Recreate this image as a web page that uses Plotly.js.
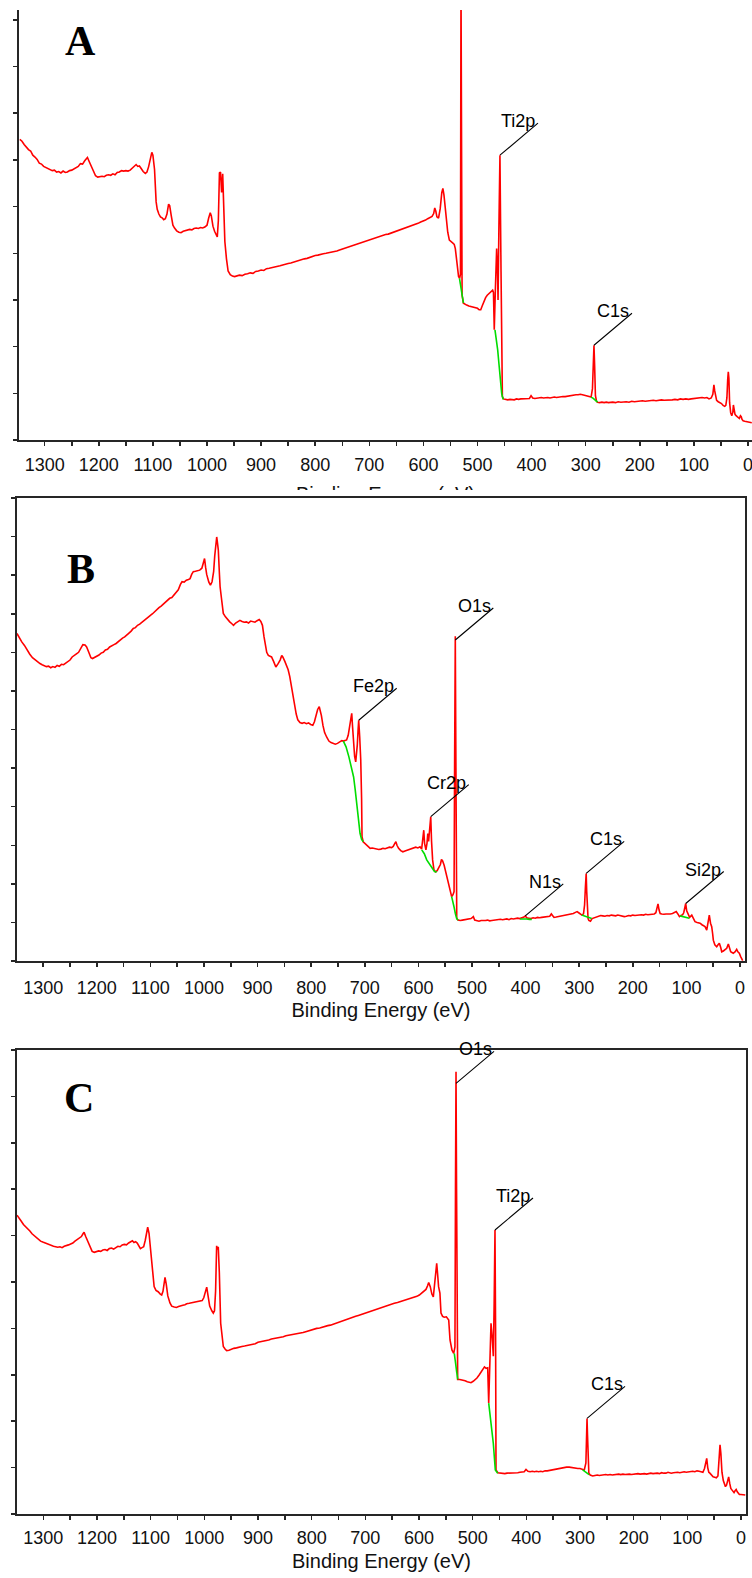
<!DOCTYPE html>
<html>
<head>
<meta charset="utf-8">
<script src="https://cdn.plot.ly/plotly-3.0.1.min.js"></script>
<style>
  html, body { margin: 0; padding: 0; background: #ffffff; }
  body { width: 752px; height: 1578px; position: relative; overflow: hidden; }
  .panel { position: absolute; left: 0; width: 752px; overflow: hidden; }
</style>
</head>
<body>
<!-- panel A's figure is taller than its frame, so the frame trims the bottom of its axis title -->
<div class="panel" style="top:0px;height:490px"><div id="panelA"></div></div>
<div class="panel" style="top:490px;height:542px"><div id="panelB"></div></div>
<div class="panel" style="top:1032px;height:546px"><div id="panelC"></div></div>
<script>
// ---------- binding-energy axis ticks ----------
const energyTicks = [0,50,100,150,200,250,300,350,400,450,500,550,600,650,700,750,800,850,900,950,1000,1050,1100,1150,1200,1250,1300,1350];
const energyTickLabels = ['0','','100','','200','','300','','400','','500','','600','','700','','800','','900','','1000','','1100','','1200','','1300',''];

// ---------- survey A (TiO2 coating) ----------
const aEnergy = [
  1346,1342,1338,1334,1330,1326,1322,1318,1314,1310,
  1306,1302,1298,1294,1290,1286,1282,1278,1274,1270,
  1266,1262,1258,1254,1250,1246,1242,1238,1234,1230,
  1226,1223,1221,1218,1214,1210,1206,1202,1198,1194,
  1190,1186,1182,1178,1174,1170,1166,1162,1158,1154,
  1150,1146,1142,1138,1134,1131,1128,1125,1122,1118,
  1114,1111,1108,1105,1102,1100,1097,1094,1092,1089,
  1086,1083,1080,1077,1074,1071,1069,1066,1063,1060,
  1056,1052,1048,1044,1040,1036,1032,1028,1024,1020,
  1016,1012,1008,1004,1000,997,994,992,989,986,
  983,981,979,977,975,973,971,969,967,964,
  961,957,953,949,945,940,935,930,925,920,
  915,910,905,900,895,890,885,880,875,870,
  865,860,855,850,845,840,835,830,825,820,
  815,810,805,800,795,790,785,780,775,770,
  765,760,755,750,745,740,735,730,725,720,
  715,710,705,700,695,690,685,680,675,670,
  665,660,655,650,645,640,635,630,625,620,
  615,610,605,600,596,592,588,584,581,579,
  577,575,572,569,566,564,562,560,558,555,
  552,549,546,543,541,539,537,535,533,531.5,
  530.5,528.5,526,523,520,516,512,508,504,500,
  497,494,491,488,485,482,479,476,474,472,
  470.5,469,467,464.6,463,462,460.5,458.5,456.5,455,
  454,452,448,444,440,436,432,428,424,420,
  416,412,408,404,401,398,394,390,386,382,
  378,374,370,366,362,358,354,350,346,342,
  338,334,330,326,322,318,314,310,306,302,
  298,294,290,287.5,286,284.7,283.5,282,280,278,
  274,270,266,262,258,254,250,245,240,235,
  230,225,220,215,210,205,200,195,190,185,
  180,175,170,165,160,155,150,145,140,135,
  130,125,120,115,110,105,100,95,90,85,
  80,76,72,68,65,63,61.5,60,58,55,
  52,49,46,43,41,39,37.5,36.4,35.3,34,
  32,30,28,27,25.5,24,22,20,18,16,
  14,12.5,11,9,6,3,0,-4,-7
];
const aCounts = [
  6.44,6.40,6.33,6.27,6.22,6.19,6.10,6.06,6.01,5.93,
  5.91,5.86,5.84,5.81,5.80,5.77,5.78,5.74,5.75,5.72,
  5.76,5.73,5.74,5.77,5.78,5.81,5.84,5.86,5.92,5.91,
  5.98,6.02,6.05,5.97,5.86,5.74,5.66,5.63,5.64,5.65,
  5.64,5.67,5.68,5.67,5.70,5.68,5.73,5.74,5.77,5.76,
  5.77,5.76,5.78,5.82,5.88,5.90,5.86,5.87,5.82,5.75,
  5.71,5.74,5.85,6.02,6.16,6.10,5.80,5.10,4.94,4.84,
  4.78,4.76,4.72,4.74,4.84,5.05,5.02,4.80,4.60,4.54,
  4.48,4.45,4.44,4.47,4.48,4.49,4.51,4.50,4.53,4.54,
  4.53,4.55,4.54,4.56,4.60,4.75,4.87,4.80,4.58,4.47,
  4.38,4.35,4.70,5.72,5.74,5.30,5.70,5.10,4.25,3.88,
  3.62,3.54,3.51,3.50,3.51,3.53,3.52,3.55,3.56,3.58,
  3.57,3.61,3.62,3.64,3.63,3.67,3.68,3.69,3.71,3.72,
  3.73,3.75,3.77,3.78,3.79,3.81,3.83,3.84,3.86,3.88,
  3.89,3.91,3.94,3.95,3.96,3.98,3.99,4.00,4.01,4.02,
  4.04,4.05,4.07,4.09,4.10,4.12,4.14,4.16,4.18,4.20,
  4.22,4.24,4.27,4.28,4.30,4.32,4.34,4.36,4.38,4.40,
  4.41,4.43,4.45,4.47,4.49,4.51,4.53,4.55,4.58,4.60,
  4.62,4.64,4.67,4.69,4.71,4.74,4.76,4.79,4.85,4.97,
  4.90,4.78,4.75,4.95,5.30,5.39,5.25,5.00,4.70,4.45,
  4.28,4.24,4.22,4.19,4.10,3.90,3.65,3.50,3.46,3.55,
  9.80,3.10,2.93,2.90,2.89,2.87,2.86,2.85,2.84,2.82,
  2.79,2.79,2.88,2.98,3.05,3.10,3.13,3.15,3.17,3.21,
  3.16,2.36,3.20,4.10,3.60,3.00,4.50,6.10,3.60,1.60,
  0.93,0.88,0.87,0.86,0.87,0.87,0.86,0.88,0.87,0.88,
  0.88,0.89,0.88,0.89,0.95,0.90,0.89,0.90,0.90,0.91,
  0.90,0.91,0.91,0.90,0.91,0.92,0.91,0.92,0.92,0.93,
  0.93,0.94,0.95,0.95,0.96,0.97,0.97,0.98,0.97,0.96,
  0.95,0.94,0.92,1.10,1.55,2.03,1.60,0.95,0.83,0.81,
  0.80,0.81,0.80,0.81,0.80,0.81,0.81,0.80,0.82,0.81,
  0.82,0.82,0.81,0.83,0.82,0.83,0.83,0.84,0.83,0.84,
  0.84,0.85,0.84,0.85,0.86,0.85,0.85,0.86,0.86,0.87,
  0.86,0.88,0.87,0.88,0.87,0.88,0.89,0.89,0.90,0.91,
  0.90,0.91,0.88,0.90,0.98,1.18,1.05,0.92,0.85,0.82,
  0.80,0.78,0.74,0.72,0.74,0.90,1.30,1.46,1.32,0.80,
  0.58,0.52,0.60,0.75,0.65,0.55,0.52,0.50,0.48,0.46,
  0.52,0.50,0.44,0.41,0.40,0.39,0.38,0.37,0.37
];
// Shirley-type backgrounds under O1s, Ti2p and C1s (gaps separate the regions)
const aBgEnergy = [533.3,531,529,527.5,526, null, 467.7,465,462.7,460.5,458.4,456.8,455.3,453.8,452.3, null, 290,288,286,284,282,280,278];
const aBgCounts = [3.46,3.30,3.12,3.00,2.93, null, 2.36,2.16,1.93,1.65,1.36,1.16,1.00,0.92,0.87, null, 0.92,0.91,0.89,0.87,0.85,0.83,0.81];
const aPeakNames = ['Ti2p', 'C1s'];
const aPeakEnergy = [458.5, 284.7];
const aPeakCounts = [6.10, 2.03];

// ---------- survey B (stainless steel substrate) ----------
const bEnergy = [
  1349,1345,1340,1335,1330,1325,1320,1315,1310,1306,
  1302,1298,1294,1290,1286,1282,1278,1274,1270,1266,
  1262,1258,1254,1250,1246,1242,1238,1234,1230,1226,
  1222,1219,1215,1211,1208,1204,1200,1196,1192,1188,
  1184,1180,1176,1172,1168,1164,1160,1156,1152,1148,
  1144,1140,1136,1132,1128,1124,1120,1116,1112,1108,
  1104,1100,1096,1092,1088,1084,1080,1076,1072,1068,
  1064,1060,1056,1052,1048,1044,1041,1037,1033,1029,
  1026,1023,1020,1016,1012,1008,1004,1001,999,997,
  995,991,988,985,982,980,978,976.3,975,973.3,
  971.5,970,967,964,960,956,952,948,945,941,
  937,933,929,925,921,917,913,909,905,901,
  897,894,891,888,886,883,880,877,874,870,
  866,862,858,855,853,849,846,843,840,837,
  834,831,828,825,821,817,813,809,805,801,
  797,794,791,788,785,783,781,778,775,771,
  767,763,759,755,751,747,743,740,737,734,
  731,729,726.5,724.4,723,721.5,719,717,715.5,714,
  712.5,711.4,709.5,707.6,706,705.2,703,700,697,694,
  690,686,682,678,674,670,666,662,658,654,
  650,647,644,642,640,637,633,629,625,621,
  617,613,609,605,601,597,594,592,590,588.5,
  586,584,582.5,581,579,577,575.5,573.5,571,568,
  565,562,559,557,555,552,549,547,544,542,
  540,538,535.5,533.5,532.5,531.2,530,528.5,526,522,
  518,514,510,506,502,499,497.5,495,491,487,
  483,479,475,471,467,463,459,455,451,447,
  443,439,435,431,427,423,419,415,411,407,
  403,400.6,398,394,390,386,382,378,374,370,
  366,362,358,355,352,350,347,343,339,335,
  331,327,323,319,315,311,307,304,301,298,
  295,292,290,288.5,287,286,284.9,283.5,282,279,
  276,272,268,264,260,256,252,248,244,240,
  236,232,228,224,220,216,212,208,204,200,
  196,192,188,184,180,176,172,168,164,160,
  157,155,153,151,149,146,142,138,134,130,
  126,122,119,116,113,110,107,105,103,101.3,
  99.5,98,96,94,90,87,84,80,77,74.6,
  71,68,65.3,62.1,60,57.3,55,52.8,51,49.8,
  47,43.5,41,38.6,36,34.1,31,28,24.8,21.8,
  19.5,17.4,15,12.5,9,6.2,4,1.3,-1,-3.2,
  -5
];
const bCounts = [
  8.49,8.38,8.27,8.18,8.05,7.95,7.86,7.80,7.74,7.71,
  7.68,7.66,7.63,7.64,7.60,7.63,7.61,7.66,7.64,7.69,
  7.68,7.72,7.76,7.80,7.88,7.93,7.96,8.00,8.10,8.20,
  8.19,8.14,8.00,7.86,7.84,7.87,7.88,7.93,7.98,8.00,
  8.06,8.08,8.14,8.16,8.20,8.23,8.28,8.32,8.37,8.40,
  8.46,8.50,8.55,8.62,8.64,8.70,8.73,8.78,8.82,8.88,
  8.91,8.96,9.00,9.06,9.10,9.16,9.20,9.25,9.28,9.34,
  9.40,9.42,9.48,9.56,9.62,9.76,9.83,9.82,9.87,9.89,
  9.91,10.02,10.09,10.10,10.12,10.13,10.18,10.30,10.43,10.20,
  10.02,9.82,9.74,9.83,10.10,10.50,10.90,10.99,10.85,10.65,
  10.10,9.70,9.35,9.01,8.92,8.84,8.79,8.74,8.70,8.76,
  8.80,8.83,8.80,8.78,8.79,8.76,8.81,8.79,8.78,8.82,
  8.85,8.80,8.70,8.40,8.23,8.00,7.92,7.90,7.88,7.76,
  7.62,7.70,7.80,7.92,7.88,7.76,7.67,7.55,7.37,7.10,
  6.88,6.60,6.40,6.25,6.18,6.16,6.18,6.15,6.17,6.13,
  6.11,6.20,6.38,6.52,6.59,6.50,6.36,6.10,5.92,5.80,
  5.70,5.66,5.63,5.62,5.64,5.68,5.71,5.70,5.72,5.73,
  5.85,6.03,6.30,6.42,6.10,5.70,5.30,5.16,5.35,5.60,
  6.00,6.24,5.80,5.21,4.20,3.22,3.09,3.05,2.99,2.96,
  2.92,2.93,2.91,2.90,2.89,2.90,2.92,2.91,2.93,2.95,
  2.94,2.97,3.05,3.09,3.00,2.92,2.86,2.83,2.85,2.87,
  2.89,2.90,2.92,2.95,2.93,2.96,2.90,3.10,3.39,3.05,
  2.88,3.05,3.30,3.10,3.50,3.74,3.10,2.62,2.36,2.31,
  2.34,2.42,2.50,2.63,2.60,2.48,2.32,2.18,2.00,1.88,
  1.78,1.67,1.72,1.80,5.00,8.42,5.00,1.10,1.06,1.05,
  1.06,1.07,1.09,1.10,1.10,1.13,1.15,1.06,1.04,1.03,
  1.05,1.04,1.05,1.06,1.04,1.05,1.06,1.07,1.08,1.08,
  1.07,1.08,1.09,1.07,1.10,1.09,1.10,1.11,1.10,1.11,
  1.14,1.17,1.12,1.11,1.10,1.12,1.11,1.13,1.12,1.13,
  1.14,1.13,1.14,1.16,1.22,1.18,1.13,1.14,1.15,1.16,
  1.17,1.18,1.19,1.20,1.21,1.23,1.26,1.28,1.25,1.22,
  1.19,1.22,1.45,1.90,2.27,1.80,1.40,1.10,1.05,1.03,
  1.10,1.12,1.14,1.16,1.18,1.17,1.16,1.18,1.17,1.19,
  1.18,1.17,1.19,1.18,1.17,1.15,1.16,1.18,1.17,1.19,
  1.18,1.19,1.19,1.20,1.19,1.21,1.20,1.21,1.22,1.22,
  1.25,1.35,1.48,1.32,1.23,1.22,1.21,1.22,1.21,1.22,
  1.23,1.25,1.28,1.22,1.15,1.18,1.20,1.25,1.35,1.49,
  1.30,1.24,1.18,1.13,1.19,1.08,1.02,1.00,0.99,0.98,
  0.94,0.92,0.89,0.80,0.95,1.19,0.98,0.89,0.70,0.54,
  0.42,0.37,0.42,0.46,0.35,0.24,0.26,0.30,0.33,0.44,
  0.30,0.24,0.22,0.20,0.24,0.30,0.24,0.20,0.12,0.04,
  0.01
];
const bBgEnergy = [740,735,729.7,725,720.9,718,715.1,712,708.9,706,702.8, null, 593.8,589,584.5,580,575.2,570,565.9, null, 538,535.5,533.5,531,528.5,526, null, 410.4,404,398,393,388.6, null, 295.3,290,285,280,276.7, null, 111.9,106,101,97,94.6];
const bBgCounts = [5.70,5.55,5.29,5.05,4.77,4.45,4.09,3.70,3.31,3.15,3.09, null, 2.88,2.78,2.62,2.52,2.40,2.32,2.31, null, 1.67,1.55,1.40,1.22,1.10,1.06, null, 1.09,1.10,1.09,1.08,1.08, null, 1.19,1.16,1.13,1.11,1.10, null, 1.17,1.15,1.14,1.12,1.11];
const bPeakNames = ['Fe2p', 'Cr2p', 'O1s', 'N1s', 'C1s', 'Si2p'];
const bPeakEnergy = [711.4, 577, 531.2, 400.6, 287, 101.3];
const bPeakCounts = [6.24, 3.74, 8.32, 1.17, 2.27, 1.49];

// ---------- survey C (TiO2 coating, second sample) ----------
const cEnergy = [
  1349,1345,1341,1337,1333,1329,1325,1321,1317,1313,
  1309,1305,1301,1297,1293,1289,1285,1281,1277,1273,
  1269,1265,1261,1257,1253,1249,1245,1241,1237,1233,
  1229,1226,1224,1221,1217,1213,1209,1205,1201,1197,
  1193,1189,1185,1181,1177,1173,1169,1165,1161,1157,
  1153,1149,1145,1141,1137,1134,1131,1128,1125,1122,
  1119,1116,1113,1110,1107,1105.5,1103,1100,1098,1095,
  1093.5,1090,1086,1082,1079.4,1077,1075,1073.2,1071,1068,
  1064,1060.7,1056,1052,1048,1044,1040,1036,1032.8,1028,
  1024,1020,1016,1012,1008,1004,1001,998,995.5,993,
  990,986,983.2,981,979,977,975.5,974,972,969.5,
  967,964.6,961,958.3,954,950,945,940,935,930,
  925,920,914.8,910,905,900,895,890,885,880,
  875,870,865,860,852.8,848,843,838,833,828,
  821.7,816,811,806,801,796,790.6,785,780,775,
  770,765,759.6,754,749,744,739,734,728.5,723,
  718,713,708,703,697.4,692,687,682,676,670,
  664,658,652,646,640,634,628,622,616,610,
  604,599.4,595,591,587,584,581.9,579,576,573.3,
  571,569,567,565.5,563.5,561,559,556,553,549,
  546.5,544.6,542.2,540,538.5,535.3,533,532,531,530,
  528.5,527.9,524,520,518.6,514,510,506,503.1,499,
  496,492,487.6,484,481.3,478,475,472,470.1,468,
  465.8,463.5,461.5,460,458.4,457.3,456.5,453,449,444,
  440,436,432,428,424,420,416,412,408,404,
  400.6,397,393,389,385,381,377,373,369.5,365,
  361,357,353,349,345,341,337,333,329,325,
  320,316,312,308,304,300,296,292,289,287.8,
  286.9,286,284.8,283.5,281,276.3,272,268,264,260,
  256,252,248,244,240,236,232,228,224,220,
  216,212,208,204,200,196,192,188,184,180,
  176,172,168,164,160,156,152,148,144,140,
  136,133.6,130,126,122,118,114,110,106,102,
  98,94,90,86,82,78,74.5,71,68,66,
  63.9,62,60,58,55,52,49,46,43,41,
  39.1,37.5,35.5,33,31,29,27,25,23,21,
  19,17,15,13,11,9,7,5,3,0,
  -4,-8
];
const cCounts = [
  6.44,6.36,6.31,6.24,6.20,6.14,6.10,6.04,6.00,5.94,
  5.92,5.88,5.86,5.84,5.83,5.80,5.79,5.77,5.76,5.75,
  5.76,5.74,5.77,5.78,5.80,5.82,5.84,5.88,5.92,5.95,
  5.98,6.04,6.07,5.98,5.88,5.76,5.66,5.64,5.66,5.67,
  5.66,5.69,5.70,5.68,5.72,5.73,5.71,5.75,5.77,5.76,
  5.80,5.81,5.80,5.84,5.88,5.89,5.85,5.87,5.84,5.76,
  5.72,5.74,5.76,5.90,6.12,6.18,6.05,5.70,5.40,5.05,
  4.90,4.82,4.79,4.74,4.72,4.80,4.98,5.10,4.96,4.70,
  4.55,4.48,4.46,4.45,4.47,4.49,4.50,4.51,4.53,4.54,
  4.55,4.56,4.57,4.58,4.58,4.60,4.66,4.80,4.89,4.70,
  4.48,4.38,4.33,4.38,4.80,5.78,5.70,5.76,5.20,4.11,
  3.82,3.61,3.55,3.52,3.53,3.55,3.57,3.58,3.60,3.61,
  3.62,3.63,3.64,3.66,3.67,3.70,3.71,3.73,3.74,3.75,
  3.77,3.78,3.79,3.80,3.82,3.84,3.85,3.86,3.87,3.88,
  3.89,3.91,3.93,3.95,3.96,3.98,4.00,4.01,4.03,4.04,
  4.06,4.07,4.09,4.11,4.13,4.15,4.17,4.19,4.22,4.24,
  4.26,4.28,4.30,4.32,4.34,4.36,4.38,4.41,4.43,4.45,
  4.47,4.49,4.52,4.54,4.56,4.58,4.60,4.62,4.65,4.67,
  4.69,4.72,4.76,4.81,4.84,4.92,4.99,4.90,4.74,4.68,
  4.95,5.20,5.40,5.20,4.90,4.76,4.33,4.26,4.24,4.25,
  4.22,4.18,3.75,3.58,3.53,3.46,3.60,7.00,9.53,7.00,
  3.20,2.90,2.90,2.89,2.89,2.87,2.85,2.84,2.83,2.86,
  2.89,2.93,3.00,3.06,3.10,3.17,3.14,3.15,2.39,3.40,
  4.11,3.80,3.40,4.50,6.12,4.00,0.95,0.89,0.88,0.88,
  0.87,0.88,0.88,0.89,0.88,0.89,0.89,0.90,0.90,0.91,
  0.96,0.92,0.91,0.92,0.91,0.92,0.91,0.92,0.91,0.93,
  0.93,0.94,0.94,0.95,0.96,0.97,0.98,0.99,1.00,1.01,
  1.01,1.00,1.00,0.99,0.98,0.98,0.96,0.95,1.10,1.60,
  2.06,1.70,1.20,0.88,0.84,0.82,0.83,0.84,0.83,0.84,
  0.84,0.85,0.84,0.85,0.84,0.85,0.85,0.86,0.85,0.86,
  0.85,0.86,0.86,0.85,0.86,0.86,0.87,0.86,0.87,0.87,
  0.86,0.87,0.88,0.87,0.88,0.88,0.87,0.89,0.88,0.88,
  0.90,0.89,0.88,0.89,0.90,0.90,0.89,0.90,0.91,0.90,
  0.91,0.91,0.92,0.91,0.93,0.92,0.91,0.90,0.98,1.10,
  1.20,1.00,0.90,0.88,0.84,0.80,0.79,0.78,0.82,1.20,
  1.49,1.30,0.90,0.72,0.65,0.59,0.62,0.72,0.80,0.66,
  0.55,0.52,0.48,0.46,0.50,0.53,0.48,0.44,0.42,0.42,
  0.41,0.41
];
const cBgEnergy = [534.2,532,530,527.9, null, 470.1,465.8,461.5,457.8,453.3, null, 295,291,287,283];
const cBgCounts = [3.46,3.25,3.05,2.90, null, 2.39,1.95,1.52,0.95,0.88, null, 0.95,0.92,0.88,0.85];
const cPeakNames = ['O1s', 'Ti2p', 'C1s'];
const cPeakEnergy = [531, 458.4, 286.9];
const cPeakCounts = [9.28, 6.12, 2.06];

// ---------- drawing ----------
const SANS = '"Liberation Sans", Arial, Helvetica, sans-serif';
const SERIF = '"Liberation Serif", "Times New Roman", serif';
const AXIS = '#262626';
const PAGE_W = 752;

function drawSurvey(divId, cfg) {
  const m = cfg.margin;
  const pw = PAGE_W - m.l - m.r;
  const ph = cfg.height - m.t - m.b;

  const countTicks = [];
  for (let v = 0; v <= Math.floor(cfg.yTop + 1e-6); v++) countTicks.push(v);

  const traces = [
    { x: cfg.energy, y: cfg.counts, type: 'scatter', mode: 'lines',
      line: { color: '#ff0000', width: 1.6 }, hoverinfo: 'skip' },
    { x: cfg.bgEnergy, y: cfg.bgCounts, type: 'scatter', mode: 'lines', connectgaps: false,
      line: { color: '#00dd00', width: 1.6 }, hoverinfo: 'skip' }
  ];

  // leader lines: a fixed pixel offset up and to the right from each peak apex
  const shapes = cfg.peakNames.map((name, i) => ({
    type: 'line', xref: 'x', yref: 'y',
    xsizemode: 'pixel', ysizemode: 'pixel',
    xanchor: cfg.peakEnergy[i], yanchor: cfg.peakCounts[i],
    x0: 0, x1: 38, y0: 0, y1: 32,
    line: { color: '#000000', width: 1.1 }
  }));

  const annotations = cfg.peakNames.map((name, i) => ({
    x: cfg.peakEnergy[i], y: cfg.peakCounts[i], xref: 'x', yref: 'y',
    text: name, showarrow: false,
    xanchor: 'right', yanchor: 'middle', xshift: 37.5, yshift: 34,
    font: { family: SANS, size: 18, color: '#000000' }
  }));

  annotations.push({
    xref: 'paper', yref: 'paper',
    x: (cfg.letterAt[0] - m.l) / pw, y: 1 - (cfg.letterAt[1] - m.t) / ph,
    xanchor: 'center', yanchor: 'middle', showarrow: false,
    text: '<b>' + cfg.letter + '</b>',
    font: { family: SERIF, size: 42, color: '#000000' }
  });

  const layout = {
    width: PAGE_W, height: cfg.height,
    margin: { l: m.l, r: m.r, t: m.t, b: m.b, pad: 0 },
    paper_bgcolor: '#ffffff', plot_bgcolor: '#ffffff',
    showlegend: false,
    font: { family: SANS, color: '#111111' },
    xaxis: {
      range: cfg.xRange, tickmode: 'array', tickvals: energyTicks, ticktext: energyTickLabels,
      ticks: 'outside', ticklen: 4, tickwidth: 1.5, tickcolor: AXIS,
      showline: true, linecolor: AXIS, linewidth: 2, mirror: cfg.box,
      showgrid: false, zeroline: false, fixedrange: true,
      tickfont: { family: SANS, size: 18, color: '#111111' },
      ticklabelstandoff: cfg.tickStandoff, ticklabeloverflow: 'allow',
      title: { text: 'Binding Energy (eV)', font: { family: SANS, size: 20, color: '#111111' }, standoff: cfg.titleStandoff }
    },
    xaxis2: {
      overlaying: 'x', anchor: 'y', side: 'bottom', range: cfg.xRange,
      tickmode: 'array', tickvals: energyTicks, ticks: 'inside', ticklen: 4, tickwidth: 1.5, tickcolor: AXIS,
      showticklabels: false, showline: false, showgrid: false, zeroline: false, fixedrange: true
    },
    yaxis: {
      range: [0, cfg.yTop], tickmode: 'array', tickvals: countTicks,
      ticks: 'outside', ticklen: 4, tickwidth: 1.5, tickcolor: AXIS,
      showticklabels: false, showline: true, linecolor: AXIS, linewidth: 2, mirror: cfg.box,
      showgrid: false, zeroline: false, fixedrange: true
    },
    yaxis2: {
      overlaying: 'y', anchor: 'x', side: 'left', range: [0, cfg.yTop],
      tickmode: 'array', tickvals: countTicks, ticks: 'inside', ticklen: 4, tickwidth: 1.5, tickcolor: AXIS,
      showticklabels: false, showline: false, showgrid: false, zeroline: false, fixedrange: true
    },
    shapes: shapes,
    annotations: annotations
  };

  return Plotly.newPlot(divId, traces, layout, { staticPlot: true, displayModeBar: false });
}

drawSurvey('panelA', {
  height: 530, margin: { l: 19, r: 0, t: 10, b: 90 },
  xRange: [1347.5, -7.4], yTop: 9.21, box: false,
  energy: aEnergy, counts: aCounts, bgEnergy: aBgEnergy, bgCounts: aBgCounts,
  peakNames: aPeakNames, peakEnergy: aPeakEnergy, peakCounts: aPeakCounts,
  letter: 'A', letterAt: [80, 41],
  tickStandoff: 3, titleStandoff: 13
});

drawSurvey('panelB', {
  height: 542, margin: { l: 17, r: 7, t: 8, b: 71 },
  xRange: [1348.9, -9.3], yTop: 12, box: true,
  energy: bEnergy, counts: bCounts, bgEnergy: bBgEnergy, bgCounts: bBgCounts,
  peakNames: bPeakNames, peakEnergy: bPeakEnergy, peakCounts: bPeakCounts,
  letter: 'B', letterAt: [81, 79],
  tickStandoff: 5, titleStandoff: 6
});

drawSurvey('panelC', {
  height: 546, margin: { l: 17, r: 6, t: 18, b: 64 },
  xRange: [1349, -9.3], yTop: 10, box: true,
  energy: cEnergy, counts: cCounts, bgEnergy: cBgEnergy, bgCounts: cBgCounts,
  peakNames: cPeakNames, peakEnergy: cPeakEnergy, peakCounts: cPeakCounts,
  letter: 'C', letterAt: [79, 66],
  tickStandoff: 2, titleStandoff: 7
});
</script>
</body>
</html>
